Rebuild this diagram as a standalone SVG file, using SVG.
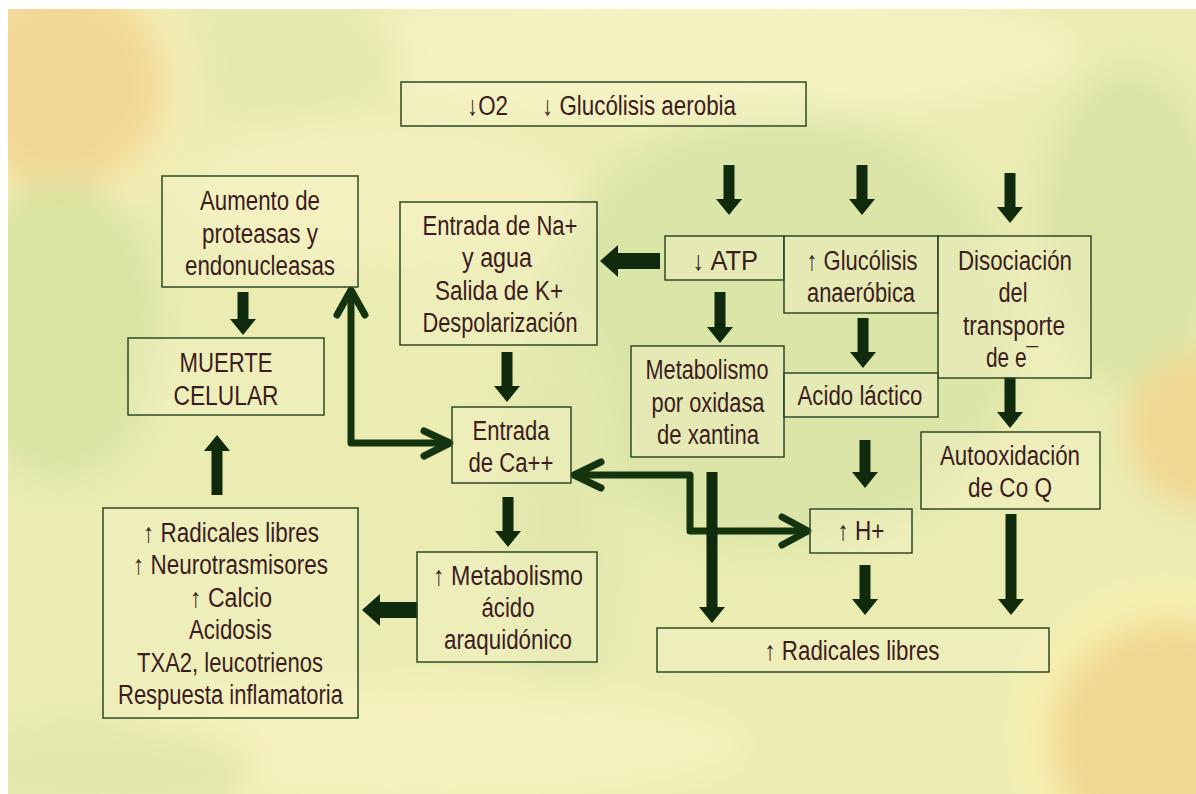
<svg xmlns="http://www.w3.org/2000/svg" width="1196" height="794" viewBox="0 0 1196 794">
<defs>
<style>
.box{fill:#f6f4cc;fill-opacity:0.35;stroke:#2e4a24;stroke-width:1.5}
.t{font-family:"Liberation Sans Narrow","Liberation Sans","DejaVu Sans",sans-serif;font-size:27px;fill:#3b1c20;text-anchor:middle}
.fat{fill:#0f2a0c}
.ln{fill:none;stroke:#14330f;stroke-width:7;stroke-linecap:round;stroke-linejoin:round}
</style>
<filter id="blur" x="-50%" y="-50%" width="200%" height="200%"><feGaussianBlur stdDeviation="16"/></filter>
<clipPath id="bgclip"><rect x="8" y="9" width="1188" height="785"/></clipPath>
</defs>
<rect x="0" y="0" width="1196" height="794" fill="#ffffff"/>
<g id="background" clip-path="url(#bgclip)">
<rect x="8" y="9" width="1188" height="785" fill="#eaecb2"/>
<g filter="url(#blur)">
<ellipse cx="700" cy="50" rx="380" ry="70" fill="#f4f2c0"/>
<ellipse cx="280" cy="60" rx="120" ry="60" fill="#e6e9ad"/>
<circle cx="65" cy="88" r="135" fill="#f4eeb4"/>
<circle cx="60" cy="85" r="105" fill="#f3d895"/>
<ellipse cx="60" cy="330" rx="100" ry="150" fill="#d9e4a2"/>
<ellipse cx="380" cy="190" rx="200" ry="70" fill="#f3f0bc"/>
<ellipse cx="780" cy="330" rx="240" ry="220" fill="#dce5a8"/>
<ellipse cx="560" cy="520" rx="60" ry="200" fill="#e2e8ad"/>
<ellipse cx="1130" cy="230" rx="90" ry="160" fill="#dbe4a4"/>
<circle cx="1205" cy="430" r="78" fill="#f2d893"/>
<ellipse cx="420" cy="745" rx="330" ry="65" fill="#f5f1bc"/>
<ellipse cx="110" cy="770" rx="140" ry="45" fill="#e3e7ab"/>
<circle cx="1165" cy="735" r="160" fill="#f5efb0"/>
<circle cx="1170" cy="740" r="118" fill="#f2d791"/>
</g>
</g>

<g id="connectors">
<polygon class="fat" points="723.5,165 734.5,165 734.5,199 742,199 729,215 716,199 723.5,199"/>
<polygon class="fat" points="856.5,165 867.5,165 867.5,199 875,199 862,215 849,199 856.5,199"/>
<polygon class="fat" points="1004.5,173 1015.5,173 1015.5,207 1023,207 1010,223 997,207 1004.5,207"/>
<polygon class="fat" points="714.5,292 725.5,292 725.5,327 733,327 720,343 707,327 714.5,327"/>
<polygon class="fat" points="857.5,318 868.5,318 868.5,352 876,352 863,368 850,352 857.5,352"/>
<polygon class="fat" points="1004.5,377 1015.5,377 1015.5,412 1023,412 1010,428 997,412 1004.5,412"/>
<polygon class="fat" points="237.5,292 248.5,292 248.5,319 256,319 243,335 230,319 237.5,319"/>
<polygon class="fat" points="501.5,352 512.5,352 512.5,386 520,386 507,402 494,386 501.5,386"/>
<polygon class="fat" points="502.5,497 513.5,497 513.5,531 521,531 508,547 495,531 502.5,531"/>
<polygon class="fat" points="859.5,440 870.5,440 870.5,472 878,472 865,488 852,472 859.5,472"/>
<polygon class="fat" points="859.5,565 870.5,565 870.5,599 878,599 865,615 852,599 859.5,599"/>
<polygon class="fat" points="1005.5,514 1016.5,514 1016.5,599 1024,599 1011,615 998,599 1005.5,599"/>
<polygon class="fat" points="211.5,495 222.5,495 222.5,451 230,451 217,435 204,451 211.5,451"/>
<polygon class="fat" points="660,253 660,269 618,269 618,277 600,261 618,245 618,253"/>
<polygon class="fat" points="418,602 418,618 380,618 380,626 362,610 380,594 380,602"/>
<path class="ln" d="M351,292 L351,443 L448,443"/>
<path class="ln" d="M337,315 L351,290 L365,315"/>
<path class="ln" d="M424,431 L450,443 L424,456"/>
<path class="ln" d="M576,475 L690,475 L690,531 L805,531"/>
<path class="ln" d="M601,462 L574,475 L601,488"/>
<path class="ln" d="M782,517 L808,531 L782,545"/>
<polygon class="fat" points="706.5,472 717.5,472 717.5,607 725,607 712,623 699,607 706.5,607"/>
</g>

<g id="n_top">
<rect class="box" x="401" y="82" width="405" height="44"/>
<text class="t" x="467" y="115" style="text-anchor:start" textLength="41" lengthAdjust="spacingAndGlyphs">↓O2</text>
<text class="t" x="542" y="115" style="text-anchor:start" textLength="194" lengthAdjust="spacingAndGlyphs">↓ Glucólisis aerobia</text>
</g>
<g id="n_aumento">
<rect class="box" x="162" y="176" width="196" height="111"/>
<text class="t" x="260" y="210" textLength="120" lengthAdjust="spacingAndGlyphs">Aumento de</text>
<text class="t" x="260" y="243" textLength="116" lengthAdjust="spacingAndGlyphs">proteasas y</text>
<text class="t" x="260" y="275" textLength="150" lengthAdjust="spacingAndGlyphs">endonucleasas</text>
</g>
<g id="n_muerte">
<rect class="box" x="128" y="338" width="196" height="77"/>
<text class="t" x="226" y="372" textLength="93" lengthAdjust="spacingAndGlyphs">MUERTE</text>
<text class="t" x="226" y="405" textLength="105" lengthAdjust="spacingAndGlyphs">CELULAR</text>
</g>
<g id="n_na">
<rect class="box" x="400" y="202" width="197" height="143"/>
<text class="t" x="500" y="235" textLength="155" lengthAdjust="spacingAndGlyphs">Entrada de Na+</text>
<text class="t" x="497" y="267" textLength="70" lengthAdjust="spacingAndGlyphs">y agua</text>
<text class="t" x="499" y="300" textLength="128" lengthAdjust="spacingAndGlyphs">Salida de K+</text>
<text class="t" x="500" y="332" textLength="155" lengthAdjust="spacingAndGlyphs">Despolarización</text>
</g>
<g id="n_atp">
<rect class="box" x="665" y="236" width="119" height="44"/>
<text class="t" x="725" y="270" textLength="66" lengthAdjust="spacingAndGlyphs">↓ ATP</text>
</g>
<g id="n_glucolisis">
<rect class="box" x="784" y="236" width="154" height="77"/>
<text class="t" x="862" y="270" textLength="111" lengthAdjust="spacingAndGlyphs">↑ Glucólisis</text>
<text class="t" x="861" y="302" textLength="108" lengthAdjust="spacingAndGlyphs">anaeróbica</text>
</g>
<g id="n_disociacion">
<rect class="box" x="938" y="236" width="153" height="142"/>
<text class="t" x="1015" y="270" textLength="114" lengthAdjust="spacingAndGlyphs">Disociación</text>
<text class="t" x="1013" y="302" textLength="29" lengthAdjust="spacingAndGlyphs">del</text>
<text class="t" x="1014" y="335" textLength="102" lengthAdjust="spacingAndGlyphs">transporte</text>
<text class="t" x="1012" y="367" textLength="52" lengthAdjust="spacingAndGlyphs">de e¯</text>
</g>
<g id="n_xantina">
<rect class="box" x="631" y="346" width="153" height="111"/>
<text class="t" x="707" y="379" textLength="123" lengthAdjust="spacingAndGlyphs">Metabolismo</text>
<text class="t" x="708" y="412" textLength="113" lengthAdjust="spacingAndGlyphs">por oxidasa</text>
<text class="t" x="708" y="444" textLength="102" lengthAdjust="spacingAndGlyphs">de xantina</text>
</g>
<g id="n_lactico">
<rect class="box" x="784" y="373" width="154" height="44"/>
<text class="t" x="860" y="405" textLength="125" lengthAdjust="spacingAndGlyphs">Acido láctico</text>
</g>
<g id="n_calcio">
<rect class="box" x="452" y="407" width="119" height="76"/>
<text class="t" x="511" y="440" textLength="77" lengthAdjust="spacingAndGlyphs">Entrada</text>
<text class="t" x="511" y="472" textLength="85" lengthAdjust="spacingAndGlyphs">de Ca++</text>
</g>
<g id="n_autoox">
<rect class="box" x="921" y="432" width="179" height="77"/>
<text class="t" x="1010" y="465" textLength="140" lengthAdjust="spacingAndGlyphs">Autooxidación</text>
<text class="t" x="1010" y="497" textLength="84" lengthAdjust="spacingAndGlyphs">de Co Q</text>
</g>
<g id="n_h">
<rect class="box" x="810" y="509" width="102" height="44"/>
<text class="t" x="861" y="540" textLength="47" lengthAdjust="spacingAndGlyphs">↑ H+</text>
</g>
<g id="n_araquidonico">
<rect class="box" x="417" y="552" width="180" height="110"/>
<text class="t" x="508" y="585" textLength="150" lengthAdjust="spacingAndGlyphs">↑  Metabolismo</text>
<text class="t" x="508" y="617" textLength="53" lengthAdjust="spacingAndGlyphs">ácido</text>
<text class="t" x="508" y="649" textLength="128" lengthAdjust="spacingAndGlyphs">araquidónico</text>
</g>
<g id="n_radicales">
<rect class="box" x="657" y="628" width="392" height="44"/>
<text class="t" x="852" y="660" textLength="175" lengthAdjust="spacingAndGlyphs">↑ Radicales libres</text>
</g>
<g id="n_efectos">
<rect class="box" x="103" y="508" width="255" height="210"/>
<text class="t" x="231" y="542" textLength="176" lengthAdjust="spacingAndGlyphs">↑ Radicales libres</text>
<text class="t" x="230.5" y="574" textLength="195" lengthAdjust="spacingAndGlyphs">↑ Neurotrasmisores</text>
<text class="t" x="231" y="607" textLength="82" lengthAdjust="spacingAndGlyphs">↑ Calcio</text>
<text class="t" x="230.5" y="639" textLength="83" lengthAdjust="spacingAndGlyphs">Acidosis</text>
<text class="t" x="230" y="672" textLength="186" lengthAdjust="spacingAndGlyphs">TXA2, leucotrienos</text>
<text class="t" x="230.5" y="704" textLength="225" lengthAdjust="spacingAndGlyphs">Respuesta inflamatoria</text>
</g>
</svg>
